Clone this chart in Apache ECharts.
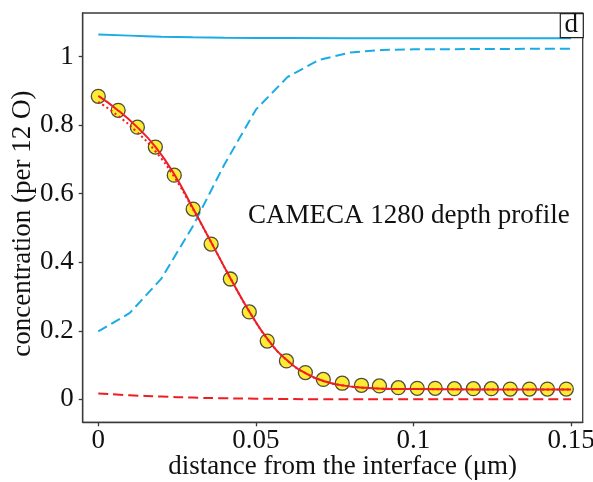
<!DOCTYPE html>
<html>
<head>
<meta charset="utf-8">
<script src="https://cdn.jsdelivr.net/npm/echarts@6/dist/echarts.min.js"></script>
<style>
html,body{margin:0;padding:0;background:#fff;}
#chart{width:593px;height:482px;}
</style>
</head>
<body>
<div id="chart"></div>
<script>
// measured points (yellow circles)
const pointX = [0, 0.0063, 0.0124, 0.0181, 0.0241, 0.0301, 0.0358, 0.0419, 0.0479, 0.0536, 0.0597, 0.0657, 0.0714, 0.0774, 0.0835, 0.0892, 0.0952, 0.1012, 0.1069, 0.1130, 0.1190, 0.1247, 0.1307, 0.1368, 0.1425, 0.1485];
const pointY = [0.884, 0.843, 0.794, 0.736, 0.654, 0.555, 0.453, 0.351, 0.255, 0.170, 0.112, 0.078, 0.058, 0.047, 0.041, 0.039, 0.034, 0.032, 0.032, 0.031, 0.031, 0.031, 0.030, 0.030, 0.030, 0.030];

// red solid fit
const redFitX = [0, 0.006, 0.012, 0.018, 0.024, 0.030, 0.036, 0.042, 0.048, 0.054, 0.060, 0.066, 0.072, 0.078, 0.084, 0.090, 0.100, 0.120, 0.150];
const redFitY = [0.885, 0.845, 0.797, 0.738, 0.658, 0.558, 0.455, 0.352, 0.255, 0.172, 0.113, 0.075, 0.052, 0.040, 0.034, 0.031, 0.030, 0.029, 0.029];

// red dotted
const redDotX = [0, 0.006, 0.012, 0.018, 0.024, 0.030, 0.036, 0.042, 0.048, 0.054, 0.060, 0.066, 0.072, 0.078, 0.084, 0.090, 0.100, 0.120, 0.150];
const redDotY = [0.868, 0.829, 0.782, 0.725, 0.650, 0.555, 0.455, 0.352, 0.255, 0.172, 0.113, 0.075, 0.052, 0.040, 0.034, 0.031, 0.030, 0.029, 0.029];

// red dashed
const redDashX = [0, 0.01, 0.02, 0.03, 0.04, 0.05, 0.06, 0.07, 0.10, 0.15];
const redDashY = [0.017, 0.012, 0.008, 0.005, 0.003, 0.002, 0.001, 0.0, 0.0, 0.0];

// blue solid
const blueX = [0, 0.01, 0.02, 0.03, 0.04, 0.06, 0.10, 0.15];
const blueY = [1.064, 1.061, 1.058, 1.056, 1.055, 1.054, 1.053, 1.053];

// blue dashed
const blueDashX = [0, 0.01, 0.02, 0.03, 0.04, 0.05, 0.06, 0.07, 0.08, 0.09, 0.10, 0.15];
const blueDashY = [0.198, 0.252, 0.352, 0.505, 0.685, 0.845, 0.940, 0.990, 1.012, 1.019, 1.021, 1.023];

const xTicks = [0, 0.05, 0.1, 0.15];
const yTicks = [0, 0.2, 0.4, 0.6, 0.8, 1];

const zip = (a, b) => a.map((v, i) => [v, b[i]]);
const FONT = '"Liberation Serif", "DejaVu Serif", serif';
const RED = '#ee1d24';
const BLUE = '#1aace6';

const chart = echarts.init(document.getElementById('chart'), null, {renderer: 'canvas'});
chart.setOption({
  animation: false,
  backgroundColor: '#fff',
  grid: {left: 82.7, right: 10.3, top: 13, bottom: 59.7, containLabel: false, outerBoundsMode: 'none',
    show: true, borderColor: '#3a3a3a', borderWidth: 1.3, backgroundColor: 'transparent'},
  xAxis: {
    type: 'value', min: -0.00495, max: 0.1537,
    name: 'distance from the interface (μm)', nameLocation: 'middle', nameGap: 31, nameMoveOverlap: false,
    nameTextStyle: {fontFamily: FONT, fontSize: 27, color: '#111', padding: [0, 0, 0, 20]},
    axisLine: {show: true, onZero: false, lineStyle: {color: '#3a3a3a', width: 1.3}},
    axisTick: {show: true, inside: false, length: 4, customValues: xTicks, lineStyle: {color: '#3a3a3a', width: 1.3}},
    axisLabel: {customValues: xTicks, margin: 5, fontFamily: FONT, fontSize: 27, color: '#111',
      formatter: v => String(v)},
    splitLine: {show: false}
  },
  yAxis: {
    type: 'value', min: -0.067, max: 1.127,
    name: 'concentration (per 12 O)', nameLocation: 'middle', nameGap: 46, nameMoveOverlap: false,
    nameTextStyle: {fontFamily: FONT, fontSize: 27, color: '#111', padding: [0, 12, 0, 0]},
    axisLine: {show: true, onZero: false, lineStyle: {color: '#3a3a3a', width: 1.3}},
    axisTick: {show: true, inside: false, length: 4, customValues: yTicks, lineStyle: {color: '#3a3a3a', width: 1.3}},
    axisLabel: {customValues: yTicks, margin: 9, fontFamily: FONT, fontSize: 27, color: '#111',
      formatter: v => String(v)},
    splitLine: {show: false}
  },
  graphic: [
    {type: 'rect', left: 559.7, top: 13, shape: {width: 23, height: 24},
     style: {fill: '#fff', stroke: '#222', lineWidth: 1.2}, z: 100},
    {type: 'text', left: 564.5, top: 11, style: {text: 'd', fontFamily: FONT, fontSize: 27, fill: '#111'}, z: 101},
    {type: 'text', left: 248, top: 202, style: {text: 'CAMECA 1280 depth profile', fontFamily: FONT, fontSize: 27, fill: '#111'}, z: 50}
  ],
  series: [
    {type: 'line', data: zip(blueX, blueY), showSymbol: false, smooth: true, lineStyle: {color: BLUE, width: 2}, z: 2},
    {type: 'line', data: zip(blueDashX, blueDashY), showSymbol: false, lineStyle: {color: BLUE, width: 2, type: [10, 5]}, z: 2},
    {type: 'line', data: zip(redDashX, redDashY), showSymbol: false, smooth: true, lineStyle: {color: RED, width: 2, type: [10, 5]}, z: 2},
    {type: 'scatter', data: zip(pointX, pointY), symbol: 'circle', symbolSize: 14,
     itemStyle: {color: '#ffe600', borderColor: '#222', borderWidth: 1.3}, z: 3},
    {type: 'line', data: zip(redDotX, redDotY), showSymbol: false, smooth: true, lineStyle: {color: RED, width: 2, type: [2, 3]}, z: 4},
    {type: 'line', data: zip(redFitX, redFitY), showSymbol: false, smooth: true, lineStyle: {color: RED, width: 2}, z: 5}
  ]
});
</script>
</body>
</html>
